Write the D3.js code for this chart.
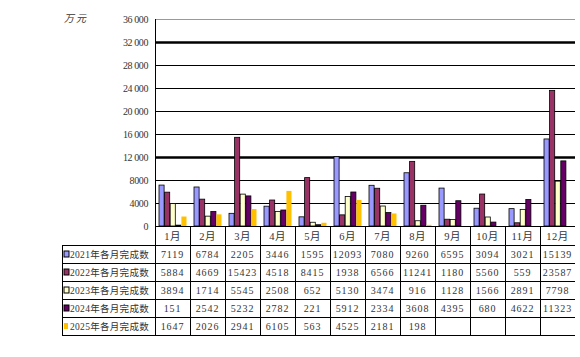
<!DOCTYPE html>
<html>
<head>
<meta charset="utf-8">
<script src="https://cdn.jsdelivr.net/npm/d3@7"></script>
<style>
  body { margin: 0; background: #fff; }
  svg text { font-family: "Liberation Serif", "Noto Sans CJK SC", serif; fill: #333; }
</style>
</head>
<body>
<div id="chart"></div>
<script>
// 数据
const months = ["1月", "2月", "3月", "4月", "5月", "6月", "7月", "8月", "9月", "10月", "11月", "12月"];
const seriesNames = ["2021年各月完成数", "2022年各月完成数", "2023年各月完成数", "2024年各月完成数", "2025年各月完成数"];
const v2021 = [7119, 6784, 2205, 3446, 1595, 12093, 7080, 9260, 6595, 3094, 3021, 15139];
const v2022 = [5884, 4669, 15423, 4518, 8415, 1938, 6566, 11241, 1180, 5560, 559, 23587];
const v2023 = [3894, 1714, 5545, 2508, 652, 5130, 3474, 916, 1128, 1566, 2891, 7798];
const v2024 = [151, 2542, 5232, 2782, 221, 5912, 2334, 3608, 4395, 680, 4622, 11323];
const v2025 = [1647, 2026, 2941, 6105, 563, 4525, 2181, 198];
const yTicks = [0, 4000, 8000, 12000, 16000, 20000, 24000, 28000, 32000, 36000];
const thickTicks = [12000, 32000];
const colors = ["#9999ff", "#993366", "#ffffcc", "#660066", "#ffc000"];

const allSeries = [v2021, v2022, v2023, v2024, v2025];

const width = 580, height = 357;
const plotLeft = 155, plotRight = 575, plotTop = 19, plotBottom = 226;
const rowH = 18, headerBottom = 245, legendLeft = 62;

const svg = d3.select("#chart").append("svg")
    .attr("width", width)
    .attr("height", height);

const x = d3.scaleBand().domain(months).range([plotLeft, plotRight]);
const xs = d3.scaleBand().domain(d3.range(5)).range([3.5, x.bandwidth() - 3.5]).padding(0);
const y = d3.scaleLinear().domain([0, 36000]).range([plotBottom, plotTop]);

// 网格线
svg.append("g")
    .selectAll("line")
    .data(yTicks.filter(d => d > 0))
    .join("line")
    .attr("x1", plotLeft).attr("x2", plotRight)
    .attr("y1", d => y(d) + 0.5).attr("y2", d => y(d) + 0.5)
    .attr("stroke", d => d === 36000 ? "#999" : "#000")
    .attr("stroke-width", d => thickTicks.includes(d) ? 2.5 : 1);

// y 轴标签
const fmt = d => d >= 10000 ? d3.format(",")(d).replace(",", " ") : String(d);
svg.append("g")
    .selectAll("text")
    .data(yTicks)
    .join("text")
    .attr("x", 148)
    .attr("y", d => y(d) + 3.5)
    .attr("text-anchor", "end")
    .attr("font-size", 10)
    .attr("letter-spacing", -0.4)
    .text(fmt);

svg.append("text")
    .attr("x", 64).attr("y", 22)
    .attr("font-size", 10)
    .attr("font-style", "italic")
    .attr("letter-spacing", 2)
    .text("万元");

// 柱子
allSeries.forEach((vals, si) => {
    svg.append("g")
        .selectAll("rect")
        .data(vals)
        .join("rect")
        .attr("x", (d, i) => x(months[i]) + xs(si) + 0.5)
        .attr("y", d => y(d))
        .attr("width", xs.bandwidth() - 0.5)
        .attr("height", d => plotBottom - y(d))
        .attr("fill", colors[si])
        .attr("stroke", si === 4 ? "none" : "#000")
        .attr("stroke-width", 0.8);
});

// 坐标轴
svg.append("line")
    .attr("x1", plotLeft + 0.5).attr("x2", plotLeft + 0.5)
    .attr("y1", plotTop).attr("y2", plotBottom + 1)
    .attr("stroke", "#000");

// 表格
const tbl = svg.append("g").attr("stroke", "#000").attr("stroke-width", 1);
const tableBottom = headerBottom + rowH * 5;
tbl.append("line").attr("x1", plotLeft).attr("x2", plotRight).attr("y1", plotBottom + 0.5).attr("y2", plotBottom + 0.5);
d3.range(6).forEach(r => {
    tbl.append("line")
        .attr("x1", legendLeft).attr("x2", plotRight)
        .attr("y1", headerBottom + r * rowH + 0.5).attr("y2", headerBottom + r * rowH + 0.5);
});
tbl.append("line").attr("x1", legendLeft + 0.5).attr("x2", legendLeft + 0.5)
    .attr("y1", headerBottom).attr("y2", tableBottom + 0.5);
tbl.selectAll("line.col")
    .data(months)
    .join("line")
    .attr("class", "col")
    .attr("x1", d => Math.round(x(d)) + 0.5).attr("x2", d => Math.round(x(d)) + 0.5)
    .attr("y1", plotBottom).attr("y2", tableBottom + 0.5);

// 月份
svg.append("g")
    .selectAll("text")
    .data(months)
    .join("text")
    .attr("x", d => x(d) + x.bandwidth() / 2)
    .attr("y", plotBottom + 14)
    .attr("text-anchor", "middle")
    .attr("font-size", 10.5)
    .attr("letter-spacing", 0.5)
    .text(d => d);

// 图例 + 数值
seriesNames.forEach((name, si) => {
    const ry = headerBottom + si * rowH;
    svg.append("rect")
        .attr("x", 64).attr("y", ry + 6)
        .attr("width", si === 4 ? 4 : 5).attr("height", 6)
        .attr("fill", colors[si])
        .attr("stroke", si === 4 ? "none" : "#000")
        .attr("stroke-width", 1);
    svg.append("text")
        .attr("x", 70).attr("y", ry + 13)
        .attr("font-size", 9.5)
        .attr("letter-spacing", 0.3)
        .text(name);
    svg.append("g")
        .selectAll("text")
        .data(allSeries[si])
        .join("text")
        .attr("x", (d, i) => x(months[i]) + x.bandwidth() / 2)
        .attr("y", ry + 13)
        .attr("text-anchor", "middle")
        .attr("font-size", 10)
        .attr("letter-spacing", 0.9)
        .text(d => d);
});
</script>
</body>
</html>
